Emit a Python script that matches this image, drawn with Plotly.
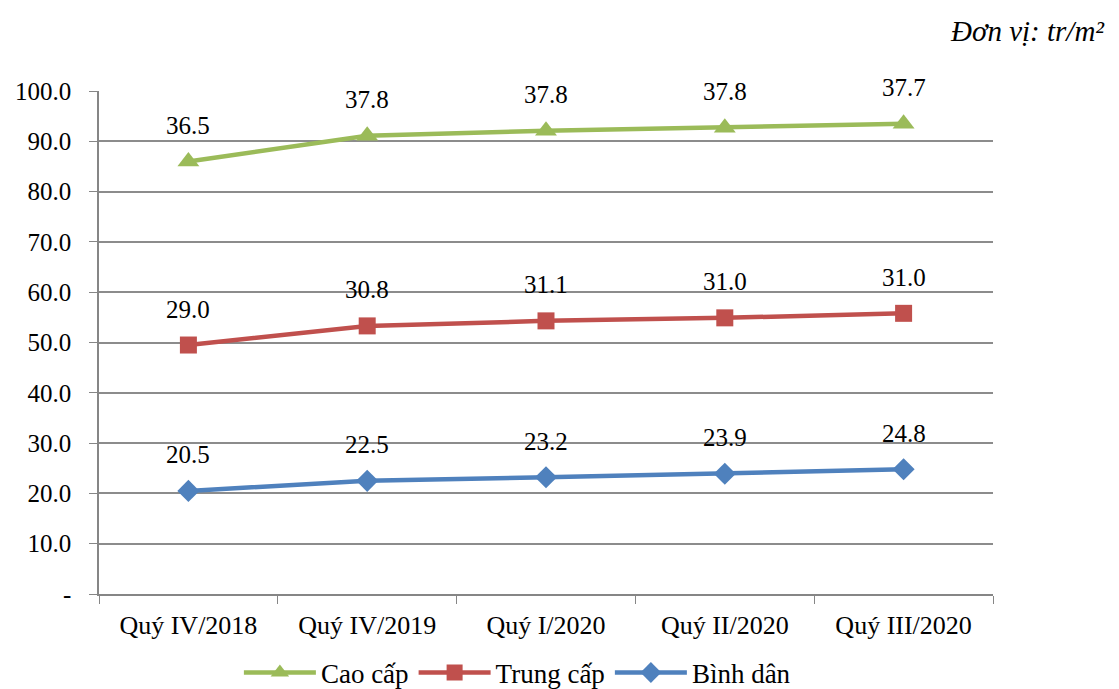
import plotly.graph_objects as go
import numpy as np

categories = ["Quý IV/2018", "Quý IV/2019", "Quý I/2020", "Quý II/2020", "Quý III/2020"]
binh_dan = [20.5, 22.5, 23.2, 23.9, 24.8]
trung_cap = [29.0, 30.8, 31.1, 31.0, 31.0]
cao_cap = [36.5, 37.8, 37.8, 37.8, 37.7]
y_ticks = [0, 10, 20, 30, 40, 50, 60, 70, 80, 90, 100]
y_tick_labels = ["-", "10.0", "20.0", "30.0", "40.0", "50.0", "60.0", "70.0", "80.0", "90.0", "100.0"]

FONT = "Liberation Serif"
series = [
    ("Bình dân", binh_dan, "#4F81BD", "diamond", 17),
    ("Trung cấp", trung_cap, "#C0504D", "square", 17),
    ("Cao cấp", cao_cap, "#9BBB59", "triangle-up", 19),
]

fig = go.Figure()
cum = np.zeros(len(categories))
annotations = []
for name, vals, color, sym, msize in series:
    cum = cum + np.array(vals)
    fig.add_trace(go.Scatter(
        x=categories, y=list(cum), name=name, mode="lines+markers",
        line=dict(color=color, width=4.5),
        marker=dict(symbol=sym, size=msize, color=color),
    ))
    for c, v, yv in zip(categories, vals, cum):
        annotations.append(dict(x=c, y=yv, text=f"{v:.1f}", showarrow=False,
                                yshift=36, font=dict(family=FONT, size=25, color="#000")))

annotations.append(dict(xref="paper", yref="paper", x=1.128, y=1.12, xanchor="right",
                        yanchor="middle", text="<i>Đơn vị: tr/m²</i>", showarrow=False,
                        font=dict(family=FONT, size=29, color="#000")))

fig.update_layout(
    width=1111, height=681,
    margin=dict(l=91, r=126, t=83, b=95, autoexpand=False),
    paper_bgcolor="white", plot_bgcolor="white",
    font=dict(family=FONT, size=25, color="#000"),
    showlegend=True,
    legend=dict(orientation="h", x=0.468, xanchor="center", y=-0.157, yanchor="middle",
                traceorder="reversed", font=dict(family=FONT, size=27),
                itemwidth=72),
    annotations=annotations,
    xaxis=dict(type="category", range=[-0.5, 4.5], showgrid=False,
               showline=True, linecolor="#868686", linewidth=1.5,
               ticks="outside", tickson="boundaries", ticklen=8, tickcolor="#868686",
               ticklabelstandoff=7,
               tickfont=dict(family=FONT, size=26)),
    yaxis=dict(range=[0, 100], tickvals=y_ticks, ticktext=y_tick_labels,
               showgrid=True, gridcolor="#8c8c8c", gridwidth=1.5,
               showline=True, linecolor="#868686", linewidth=1.5,
               ticks="outside", ticklen=8, tickcolor="#868686",
               ticklabelstandoff=13,
               tickfont=dict(family=FONT, size=25), zeroline=False),
)
fig.write_html("out.html")
